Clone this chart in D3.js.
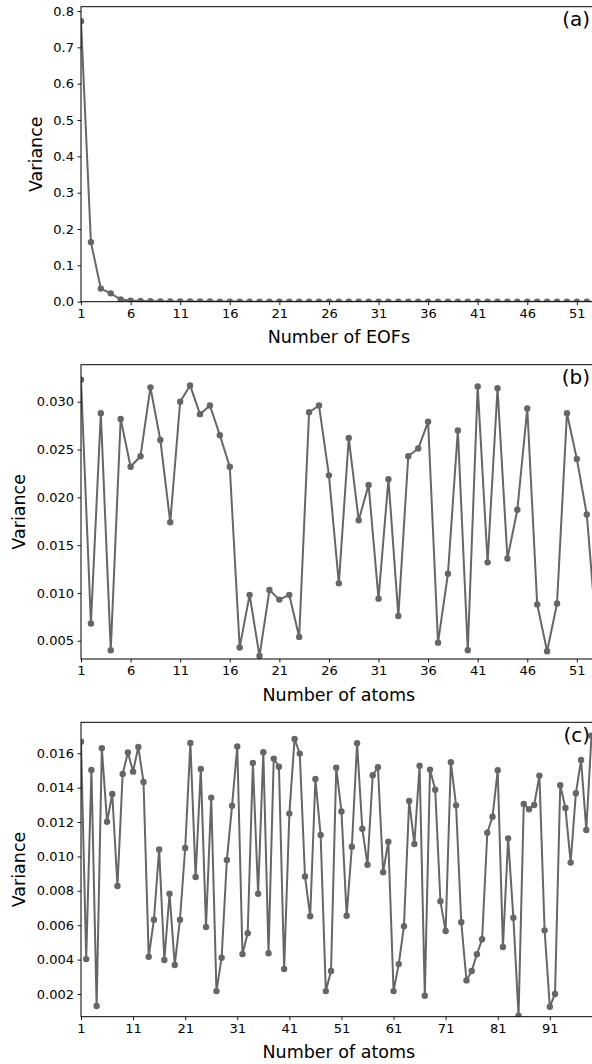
<!DOCTYPE html>
<html>
<head>
<meta charset="utf-8">
<script src="https://cdn.jsdelivr.net/npm/d3@7"></script>
<style>
  html, body { margin: 0; padding: 0; background: #ffffff; }
  svg { display: block; }
  text { font-family: "DejaVu Sans", sans-serif; fill: #000; }
</style>
</head>
<body>
<svg id="fig" width="592" height="1064"></svg>
<script>
// Explained variance per EOF mode (panel a)
const eofVariance = [
  0.772, 0.164, 0.036, 0.023, 0.006, 0.003, 0.0018, 0.0012, 0.0009, 0.0007,
  0.0006, 0.0005, 0.0004, 0.0004, 0.0003, 0.0003, 0.0003, 0.0002, 0.0002, 0.0002,
  0.0002, 0.0002, 0.0001, 0.0001, 0.0001, 0.0001, 0.0001, 0.0001, 0.0001, 0.0001,
  0.0001, 0.0001, 0.0001, 0.0001, 0.0001, 0.0001, 0.0001, 0.0001, 0.0001, 0.0001,
  0.0001, 0.0001, 0.0001, 0.0001, 0.0001, 0.0001, 0.0001, 0.0001, 0.0001, 0.0001,
  0.0001, 0.0001, 0.0001
];

// Variance per atom, 53-atom dictionary (panel b)
const atomVarianceB = [
  0.0323, 0.0068, 0.0288, 0.0040, 0.0282, 0.0232, 0.0243, 0.0315, 0.0260, 0.0174,
  0.0300, 0.0317, 0.0287, 0.0296, 0.0265, 0.0232, 0.0043, 0.0098, 0.0034, 0.0103,
  0.0093, 0.0098, 0.0054, 0.0289, 0.0296, 0.0223, 0.0110, 0.0262, 0.0176, 0.0213,
  0.0094, 0.0219, 0.0076, 0.0243, 0.0251, 0.0279, 0.0048, 0.0120, 0.0270, 0.0040,
  0.0316, 0.0132, 0.0314, 0.0136, 0.0187, 0.0293, 0.0088, 0.0039, 0.0089, 0.0288,
  0.0240, 0.0182, 0.0055
];

// Variance per atom, 100-atom dictionary (panel c)
const atomVarianceC = [
  0.01667, 0.00403, 0.01503, 0.00130, 0.01629, 0.01202, 0.01363, 0.00828, 0.01480, 0.01604,
  0.01493, 0.01637, 0.01433, 0.00417, 0.00632, 0.01041, 0.00398, 0.00783, 0.00369, 0.00632,
  0.01049, 0.01660, 0.00880, 0.01509, 0.00590, 0.01342, 0.00217, 0.00411, 0.00979, 0.01295,
  0.01639, 0.00432, 0.00553, 0.01544, 0.00783, 0.01606, 0.00437, 0.01569, 0.01522, 0.00345,
  0.01249, 0.01683, 0.01598, 0.00884, 0.00652, 0.01450, 0.01125, 0.00217, 0.00334, 0.01516,
  0.01262, 0.00655, 0.01057, 0.01658, 0.01161, 0.00952, 0.01472, 0.01519, 0.00908, 0.01086,
  0.00217, 0.00374, 0.00594, 0.01323, 0.01072, 0.01528, 0.00190, 0.01505, 0.01388, 0.00739,
  0.00566, 0.01548, 0.01297, 0.00617, 0.00279, 0.00334, 0.00431, 0.00518, 0.01138, 0.01231,
  0.01501, 0.00473, 0.01105, 0.00644, 0.00074, 0.01305, 0.01274, 0.01299, 0.01470, 0.00570,
  0.00126, 0.00200, 0.01414, 0.01282, 0.00964, 0.01367, 0.01561, 0.01154, 0.01702
];

// Tick values
const xTicks53 = [1, 6, 11, 16, 21, 26, 31, 36, 41, 46, 51];
const xTicks100 = [1, 11, 21, 31, 41, 51, 61, 71, 81, 91];
const yTicksA = [0.0, 0.1, 0.2, 0.3, 0.4, 0.5, 0.6, 0.7, 0.8];
const yTicksB = [0.005, 0.010, 0.015, 0.020, 0.025, 0.030];
const yTicksC = [0.002, 0.004, 0.006, 0.008, 0.010, 0.012, 0.014, 0.016];

const panels = [
  { id: "a", values: eofVariance, xMax: 53, yDomain: [0, 0.8118], xTicks: xTicks53,
    yTicks: yTicksA, yFmt: d3.format(".1f"), xLabel: "Number of EOFs", top: 6.7, bottom: 301.7, yLabelX: 42 },
  { id: "b", values: atomVarianceB, xMax: 53, yDomain: [0.00309, 0.03387], xTicks: xTicks53,
    yTicks: yTicksB, yFmt: d3.format(".3f"), xLabel: "Number of atoms", top: 364.7, bottom: 659, yLabelX: 24.5 },
  { id: "c", values: atomVarianceC, xMax: 100, yDomain: [0.00068, 0.0178], xTicks: xTicks100,
    yTicks: yTicksC, yFmt: d3.format(".3f"), xLabel: "Number of atoms", top: 722.3, bottom: 1016.7, yLabelX: 24.5 }
];

const left = 81, right = 596.7;
const ink = "#666666";
const svg = d3.select("#fig");

panels.forEach(p => {
  const x = d3.scaleLinear().domain([1, p.xMax]).range([left, right]);
  const y = d3.scaleLinear().domain(p.yDomain).range([p.bottom, p.top]);
  const g = svg.append("g");

  const clipId = "clip-" + p.id;
  svg.append("clipPath").attr("id", clipId)
    .append("rect").attr("x", left).attr("y", p.top)
    .attr("width", right - left).attr("height", p.bottom - p.top);

  const data = p.values.map((v, i) => ({ n: i + 1, v }));
  const plot = g.append("g").attr("clip-path", `url(#${clipId})`);

  plot.append("path")
    .datum(data)
    .attr("fill", "none")
    .attr("stroke", ink)
    .attr("stroke-width", 2)
    .attr("stroke-linejoin", "round")
    .attr("d", d3.line().x(d => x(d.n)).y(d => y(d.v)));

  plot.selectAll("circle")
    .data(data)
    .join("circle")
    .attr("cx", d => x(d.n))
    .attr("cy", d => y(d.v))
    .attr("r", 3.2)
    .attr("fill", ink);

  // Axes
  const xAxis = d3.axisBottom(x).tickValues(p.xTicks).tickFormat(d3.format("d"))
    .tickSizeInner(3.5).tickSizeOuter(0).tickPadding(3.5);
  const yAxis = d3.axisLeft(y).tickValues(p.yTicks).tickFormat(p.yFmt)
    .tickSizeInner(3.5).tickSizeOuter(0).tickPadding(3.5);

  const gx = g.append("g").attr("transform", `translate(0,${p.bottom})`).call(xAxis);
  const gy = g.append("g").attr("transform", `translate(${left},0)`).call(yAxis);
  [gx, gy].forEach(a => {
    a.select(".domain").remove();
    a.selectAll(".tick line").attr("stroke", "#000").attr("stroke-width", 0.9);
    a.selectAll(".tick text").attr("font-family", "DejaVu Sans").attr("font-size", 13).attr("fill", "#000");
  });

  // Frame
  g.append("rect")
    .attr("x", left).attr("y", p.top)
    .attr("width", right - left).attr("height", p.bottom - p.top)
    .attr("fill", "none").attr("stroke", "#000").attr("stroke-width", 1);

  // Axis titles
  g.append("text")
    .attr("x", (left + right) / 2)
    .attr("y", p.bottom + 41.5)
    .attr("text-anchor", "middle")
    .attr("font-size", 17.5)
    .text(p.xLabel);

  g.append("text")
    .attr("transform", `translate(${p.yLabelX},${(p.top + p.bottom) / 2}) rotate(-90)`)
    .attr("text-anchor", "middle")
    .attr("font-size", 17.5)
    .text("Variance");

  // Panel tag
  g.append("text")
    .attr("x", 590)
    .attr("y", p.top + 19.3)
    .attr("text-anchor", "end")
    .attr("font-size", 20)
    .text(`(${p.id})`);
});
</script>
</body>
</html>
